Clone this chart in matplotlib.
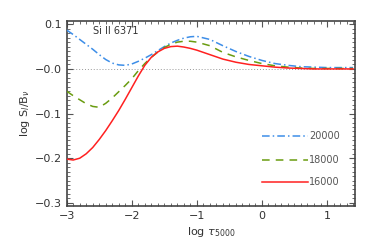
import matplotlib
matplotlib.use("Agg")
import matplotlib.pyplot as plt
from matplotlib.ticker import MultipleLocator, FixedLocator

log_tau = [-3.0, -2.9, -2.8, -2.7, -2.6, -2.5, -2.4, -2.3, -2.2, -2.1, -2.0, -1.9, -1.8, -1.7,
           -1.6, -1.5, -1.4, -1.3, -1.2, -1.1, -1.0, -0.8, -0.6, -0.4, -0.2, 0.0,
           0.2, 0.4, 0.6, 0.8, 1.0, 1.2, 1.4]

s_20000 = [0.087, 0.077, 0.066, 0.055, 0.044, 0.032, 0.021, 0.013, 0.009, 0.008, 0.011, 0.017,
           0.024, 0.032, 0.041, 0.050, 0.058, 0.064, 0.069, 0.072, 0.073, 0.066, 0.052, 0.039,
           0.028, 0.019, 0.012, 0.008, 0.005, 0.004, 0.003, 0.003, 0.003]
s_18000 = [-0.050, -0.060, -0.069, -0.078, -0.084, -0.086, -0.077, -0.065, -0.051, -0.037, -0.022, -0.004,
           0.012, 0.026, 0.038, 0.048, 0.055, 0.060, 0.062, 0.062, 0.060, 0.052, 0.037, 0.027,
           0.019, 0.012, 0.007, 0.004, 0.002, 0.001, 0.001, 0.001, 0.001]
s_16000 = [-0.202, -0.204, -0.200, -0.190, -0.176, -0.158, -0.138, -0.116, -0.093, -0.068, -0.042, -0.016,
           0.008, 0.026, 0.038, 0.046, 0.050, 0.051, 0.049, 0.046, 0.042, 0.032, 0.022, 0.015,
           0.010, 0.007, 0.004, 0.002, 0.001, 0.000, 0.000, 0.000, 0.000]

series_labels = ["20000", "18000", "16000"]
colors = ["#3d8ee8", "#6a9c10", "#ff2020"]
styles = [(0, (5, 2, 1, 2)), (0, (5, 4)), "-"]

xticks = [-3, -2, -1, 0, 1]
xticklabels = ["\u22123", "\u22122", "\u22121", "0", "1"]
yticks = [0.1, 0.0, -0.1, -0.2, -0.3]
yticklabels = ["0.1", "\u22120.0", "\u22120.1", "\u22120.2", "\u22120.3"]

txt = "#333333"
plt.rcParams["font.family"] = ["DejaVu Sans"]
fig = plt.figure(figsize=(3.74, 2.49), dpi=100)
ax = fig.add_axes([66.7 / 374, 1 - 206 / 249, (355 - 66.7) / 374, (206 - 20.7) / 249])

ax.axhline(0.0, color="#999999", lw=0.7, ls=(0, (1, 2)), zorder=1)

for ys, c, ls in zip([s_20000, s_18000, s_16000], colors, styles):
    ax.plot(log_tau, ys, color=c, ls=ls, lw=1.1, zorder=3)

# legend drawn as lines in axes fraction
leg_y = [0.379, 0.248, 0.131]
for lab, c, ls, yy in zip(series_labels, colors, styles, leg_y):
    ax.plot([0.677, 0.837], [yy, yy], transform=ax.transAxes, color=c, ls=ls, lw=1.1, clip_on=False)
    ax.text(0.842, yy, lab, transform=ax.transAxes, color="#555555", fontsize=7, va="center", ha="left")

ax.text(0.091, 0.944, "Si II 6371", transform=ax.transAxes, color=txt, fontsize=7, va="center", ha="left")

ax.set_xlim(-3.0, 1.43)
ax.set_ylim(-0.307, 0.108)
ax.xaxis.set_major_locator(FixedLocator(xticks))
ax.set_xticklabels(xticklabels)
ax.yaxis.set_major_locator(FixedLocator(yticks))
ax.set_yticklabels(yticklabels)
ax.xaxis.set_minor_locator(MultipleLocator(0.1))
ax.yaxis.set_minor_locator(MultipleLocator(0.01))
ax.tick_params(which="both", direction="in", top=True, right=True, colors="#555555",
               labelcolor=txt, labelsize=8)
ax.tick_params(which="major", length=4, width=0.8)
ax.tick_params(which="minor", length=2, width=0.6)
for sp in ax.spines.values():
    sp.set_color("#444444")
    sp.set_linewidth(1.2)

ax.set_xlabel(r"log $\tau_{5000}$", fontsize=8, color=txt, labelpad=3)
ax.set_ylabel(r"log S$_l$/B$_\nu$", fontsize=8, color=txt, labelpad=2)

fig.savefig("out.png", dpi=100)
